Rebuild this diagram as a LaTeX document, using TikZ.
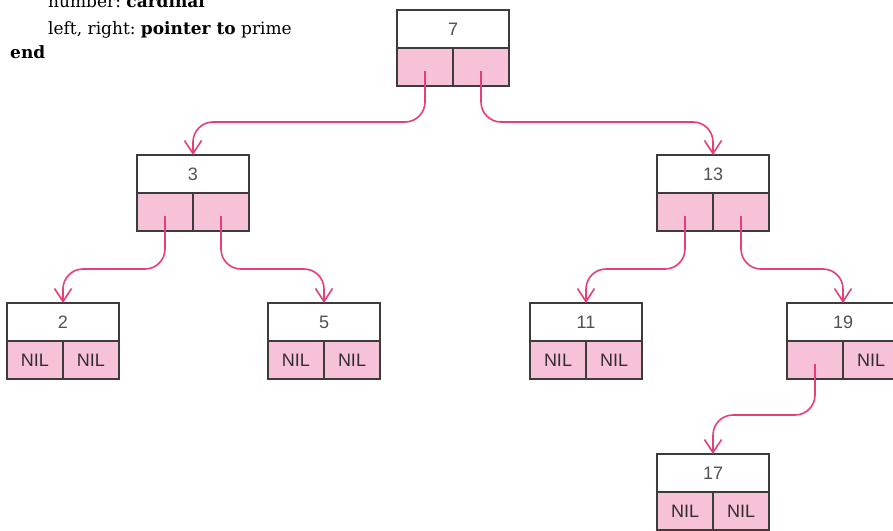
\documentclass[tikz,border=0pt]{standalone}
\usepackage{fontspec}
\setmainfont{DejaVu Serif}
\newfontfamily\cellfont{Liberation Sans}
\usetikzlibrary{arrows.meta,calc}

\definecolor{ptrpink}{RGB}{232,62,118}
\definecolor{cellpink}{RGB}{247,194,217}
\definecolor{boxline}{RGB}{60,60,60}
\definecolor{keygray}{RGB}{80,80,80}
\definecolor{nilgray}{RGB}{50,45,50}

\tikzset{
  keybox/.style={draw=boxline, line width=1.1pt, minimum width=112pt,
    minimum height=38pt, inner sep=0pt, outer sep=0pt,
    font=\cellfont\fontsize{18}{20}\selectfont, text=keygray},
  ptrcell/.style={keybox, minimum width=56pt, fill=cellpink, text=nilgray},
  ptr/.style={draw=ptrpink, line width=1.6pt, rounded corners=20pt,
    -{Straight Barb[length=13pt,width=17pt,line width=1.6pt]}},
  codeline/.style={anchor=base west, inner sep=0pt, text=black,
    font=\frenchspacing\fontsize{17}{20}\selectfont}
}

% a record: key on top, two pointer cells below
% #1 name, #2 left x, #3 top y, #4 key, #5 left cell, #6 right cell
\newcommand\primerecord[6]{%
  \node[keybox]  (#1)  at (#2+56,#3+19) {#4};
  \node[ptrcell] (#1l) at (#2+28,#3+57) {#5};
  \node[ptrcell] (#1r) at (#2+84,#3+57) {#6};
}

\begin{document}
\begin{tikzpicture}[x=1pt,y=-1pt]
  \useasboundingbox (0,0) rectangle (893,530);
  \clip (0,0) rectangle (893,530);

  % type declaration
  \node[codeline] (l1) at (48,8)  {number: \textbf{cardinal}};
  \node[codeline] (l2) at (48,34) {left, right: \textbf{pointer to} prime};
  \node[codeline] (l3) at (10,58) {\textbf{end}};

  % tree of records
  \primerecord{n7}{397}{10}{7}{}{}
  \primerecord{n3}{137}{155}{3}{}{}
  \primerecord{n13}{657}{155}{13}{}{}
  \primerecord{n2}{7}{303}{2}{NIL}{NIL}
  \primerecord{n5}{268}{303}{5}{NIL}{NIL}
  \primerecord{n11}{530}{303}{11}{NIL}{NIL}
  \primerecord{n19}{787}{303}{19}{}{NIL}
  \primerecord{n17}{657}{454}{17}{NIL}{NIL}

  % pointers
  \draw[ptr] ([yshift=-4pt]n7l.center)  |- ($(n3.north)+(0,-33)$)  -- (n3.north);
  \draw[ptr] ([yshift=-4pt]n7r.center)  |- ($(n13.north)+(0,-33)$) -- (n13.north);
  \draw[ptr] ([yshift=-4pt]n3l.center)  |- ($(n2.north)+(0,-34)$)  -- (n2.north);
  \draw[ptr] ([yshift=-4pt]n3r.center)  |- ($(n5.north)+(0,-34)$)  -- (n5.north);
  \draw[ptr] ([yshift=-4pt]n13l.center) |- ($(n11.north)+(0,-34)$) -- (n11.north);
  \draw[ptr] ([yshift=-4pt]n13r.center) |- ($(n19.north)+(0,-34)$) -- (n19.north);
  \draw[ptr] ([yshift=-4pt]n19l.center) |- ($(n17.north)+(0,-39)$) -- (n17.north);
\end{tikzpicture}
\end{document}
